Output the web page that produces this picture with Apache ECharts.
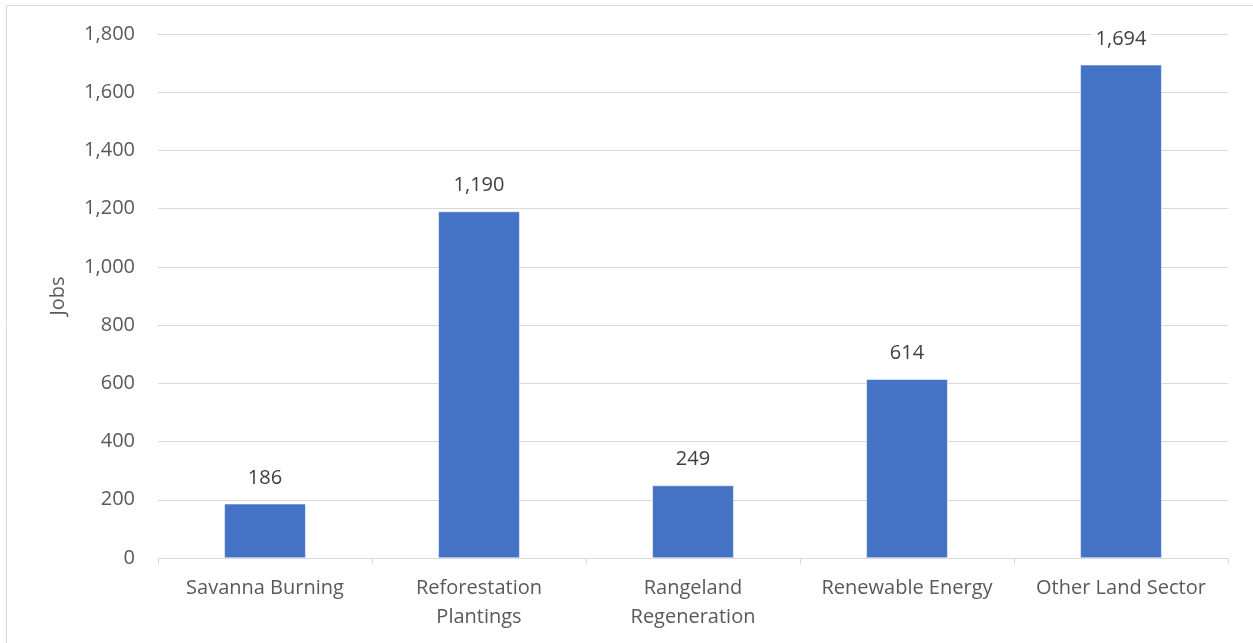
<!DOCTYPE html>
<html>
<head>
<meta charset="utf-8">
<script src="https://cdn.jsdelivr.net/npm/echarts@6/dist/echarts.min.js"></script>
<style>
  html, body { margin: 0; padding: 0; background: #fff; }
  #chart { width: 1253px; height: 643px; }
</style>
</head>
<body>
<div id="chart"></div>
<script>
// Jobs by activity
const categories = ['Savanna Burning', 'Reforestation\nPlantings', 'Rangeland\nRegeneration', 'Renewable Energy', 'Other Land Sector'];
const jobs = [186, 1190, 249, 614, 1694];
const yTicks = { min: 0, max: 1800, step: 200 };

const textColor = '#595959';
const fontFamily = '"Open Sans", "Noto Sans", sans-serif';

const chart = echarts.init(document.getElementById('chart'), null, { renderer: 'canvas' });
chart.setOption({
  backgroundColor: '#ffffff',
  animation: false,
  textStyle: { fontFamily: fontFamily },
  graphic: [{
    type: 'rect',
    shape: { x: 6.5, y: 5.5, width: 1270, height: 660 },
    style: { fill: 'none', stroke: '#d9d9d9', lineWidth: 1 },
    silent: true
  }],
  grid: { left: 158, right: 25, top: 34, bottom: 85, containLabel: false },
  xAxis: {
    type: 'category',
    data: categories,
    axisLine: { lineStyle: { color: '#d9d9d9', width: 1 } },
    axisTick: { show: true, length: 6, alignWithLabel: false, lineStyle: { color: '#d9d9d9' } },
    axisLabel: { color: textColor, fontFamily: fontFamily, fontSize: 20, margin: 16, lineHeight: 29, interval: 0 }
  },
  yAxis: {
    type: 'value',
    min: yTicks.min,
    max: yTicks.max,
    interval: yTicks.step,
    name: 'Jobs',
    nameLocation: 'middle',
    nameGap: 90,
    nameRotate: 90,
    nameTextStyle: { color: textColor, fontFamily: fontFamily, fontSize: 20 },
    axisLine: { show: false },
    axisTick: { show: false },
    splitLine: { lineStyle: { color: '#d9d9d9', width: 1 } },
    axisLabel: {
      color: textColor, fontFamily: fontFamily, fontSize: 20, margin: 23,
      formatter: v => v.toLocaleString('en-US')
    }
  },
  series: [{
    type: 'bar',
    data: jobs,
    barWidth: '38%',
    itemStyle: { color: '#4472c4', borderColor: '#ffffff', borderWidth: 0.5 },
    label: {
      show: true,
      position: 'top',
      distance: 14,
      color: '#404040',
      fontFamily: fontFamily,
      fontSize: 20,
      backgroundColor: '#ffffff',
      padding: [2, 4],
      formatter: p => p.value.toLocaleString('en-US')
    }
  }]
});
</script>
</body>
</html>
